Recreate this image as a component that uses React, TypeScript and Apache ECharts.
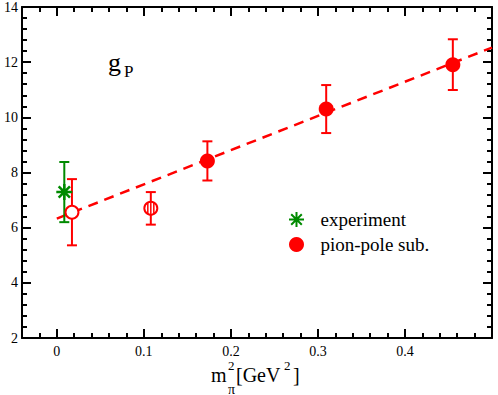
import React, { useEffect, useRef } from "react";
import * as echarts from "echarts";

// ---- data ----
const xMajorTicks = [0, 0.1, 0.2, 0.3, 0.4];
const yMajorTicks = [2, 4, 6, 8, 10, 12, 14];

const expX = [0.0086];
const expY = [7.29];
const expErr = [1.09];

const latX = [0.0174, 0.108, 0.173, 0.3095, 0.455];
const latY = [6.56, 6.7, 8.42, 10.3, 11.91];
const latErr = [1.2, 0.59, 0.71, 0.87, 0.92];
const latKind = ["open", "hatched", "filled", "filled", "filled"];

const fitX = [0, 0.5];
const fitY = [6.33, 12.53];

const RED = "#ff0000";
const GREEN = "#008a00";
const FONT = "'Liberation Serif', 'Times New Roman', serif";

const asterisk =
  "path://M10,0L10,20M0,10L20,10M2.93,2.93L17.07,17.07M2.93,17.07L17.07,2.93";

function errBarSeries(name: string, data: number[][], color: string) {
  return {
    name,
    type: "custom",
    silent: true,
    z: 3,
    encode: { x: 0, y: 1 },
    data,
    renderItem: (params: any, api: any) => {
      const x = api.value(0);
      const y = api.value(1);
      const e = api.value(2);
      const t = api.coord([x, y + e]);
      const b = api.coord([x, y - e]);
      const hw = 5;
      const st = { stroke: color, lineWidth: 2 };
      return {
        type: "group",
        children: [
          { type: "line", shape: { x1: t[0], y1: t[1], x2: b[0], y2: b[1] }, style: st },
          { type: "line", shape: { x1: t[0] - hw, y1: t[1], x2: t[0] + hw, y2: t[1] }, style: st },
          { type: "line", shape: { x1: b[0] - hw, y1: b[1], x2: b[0] + hw, y2: b[1] }, style: st },
        ],
      };
    },
  };
}

function txt(text: string, x: number, y: number, size: number) {
  return {
    type: "text",
    x,
    y,
    style: {
      text,
      fontFamily: FONT,
      fontSize: size,
      fill: "#000",
      verticalAlign: "middle",
    },
  };
}

export default function App() {
  const ref = useRef<HTMLDivElement>(null);
  useEffect(() => {
    if (!ref.current) return;
    const chart = echarts.init(ref.current, undefined, { renderer: "svg" });

    const expData = expX.map((x, i) => [x, expY[i], expErr[i]]);
    const latData = latX.map((x, i) => [x, latY[i], latErr[i]]);
    const filled = latX.map((x, i) => [x, latY[i]]).filter((_, i) => latKind[i] === "filled");
    const open = latX.map((x, i) => [x, latY[i]]).filter((_, i) => latKind[i] === "open");
    const hatched = latX.map((x, i) => [x, latY[i]]).filter((_, i) => latKind[i] === "hatched");
    const fit = fitX.map((x, i) => [x, fitY[i]]);

    const axisLine = { show: true, onZero: false, lineStyle: { color: "#000", width: 2 } };
    const minorX = (pos: string) => ({
      type: "value",
      min: -0.04,
      max: 0.5,
      interval: 0.02,
      position: pos,
      axisLine,
      axisTick: { show: true, inside: true, length: 5, lineStyle: { color: "#000", width: 2 } },
      axisLabel: { show: false },
      splitLine: { show: false },
    });
    const majorX = (pos: string, labels: boolean) => ({
      type: "value",
      min: -0.04,
      max: 0.5,
      position: pos,
      axisLine: { show: false },
      axisTick: {
        show: true,
        inside: true,
        length: 9,
        customValues: xMajorTicks,
        lineStyle: { color: "#000", width: 2 },
      },
      axisLabel: {
        show: labels,
        customValues: xMajorTicks,
        formatter: (v: number) => String(Math.round(v * 10) / 10),
        fontFamily: FONT,
        fontSize: 14,
        color: "#000",
        margin: 6,
      },
      splitLine: { show: false },
    });
    const yAx = (pos: string, labels: boolean) => ({
      type: "value",
      min: 2,
      max: 14,
      interval: 2,
      position: pos,
      axisLine,
      axisTick: { show: true, inside: true, length: 9, lineStyle: { color: "#000", width: 2 } },
      minorTick: { show: true, splitNumber: 5, length: 5, lineStyle: { color: "#000", width: 2 } },
      axisLabel: {
        show: labels,
        fontFamily: FONT,
        fontSize: 14,
        color: "#000",
        margin: 4,
        formatter: (v: number) => (yMajorTicks.includes(v) ? String(v) : ""),
      },
      splitLine: { show: false },
    });

    chart.setOption({
      animation: false,
      backgroundColor: "#fff",
      grid: { left: 22, right: 6, top: 6, bottom: 57, containLabel: false },
      xAxis: [minorX("bottom"), majorX("bottom", true), minorX("top"), majorX("top", false)],
      yAxis: [yAx("left", true), yAx("right", false)],
      legend: {
        orient: "vertical",
        left: 283,
        top: 205,
        itemWidth: 30,
        itemHeight: 15,
        itemGap: 6,
        selectedMode: false,
        textStyle: { fontFamily: FONT, fontSize: 19, color: "#000", padding: [0, 0, 0, 4] },
        data: ["experiment", "pion-pole sub."],
      },
      series: [
        {
          name: "fit",
          type: "line",
          data: fit,
          symbol: "none",
          z: 1,
          lineStyle: { color: RED, width: 2.5, type: [10, 7] },
        },
        errBarSeries("expErr", expData, GREEN),
        errBarSeries("latErr", latData, RED),
        {
          name: "experiment",
          type: "scatter",
          data: expX.map((x, i) => [x, expY[i]]),
          symbol: asterisk,
          symbolSize: 16,
          z: 5,
          itemStyle: { color: GREEN, borderColor: GREEN, borderWidth: 2.5, opacity: 1 },
        },
        {
          name: "pion-pole sub.",
          type: "scatter",
          data: filled,
          symbol: "circle",
          symbolSize: 15,
          z: 5,
          itemStyle: { color: RED, opacity: 1 },
        },
        {
          name: "open",
          type: "scatter",
          data: open,
          symbol: "circle",
          symbolSize: 13,
          z: 5,
          itemStyle: { color: "#fff", borderColor: RED, borderWidth: 2, opacity: 1 },
        },
        {
          name: "hatched",
          type: "custom",
          z: 5,
          encode: { x: 0, y: 1 },
          data: hatched,
          renderItem: (params: any, api: any) => {
            const c = api.coord([api.value(0), api.value(1)]);
            const r = 6.5;
            const st = { stroke: RED, lineWidth: 2 };
            const lines = [-3, 0, 3].map((dx) => {
              const h = Math.sqrt(r * r - dx * dx);
              return {
                type: "line",
                shape: { x1: c[0] + dx, y1: c[1] - h, x2: c[0] + dx, y2: c[1] + h },
                style: { stroke: RED, lineWidth: 1.5 },
              };
            });
            return {
              type: "group",
              children: [
                { type: "circle", shape: { cx: c[0], cy: c[1], r }, style: { fill: "#fff", ...st } },
                ...lines,
              ],
            };
          },
        },
      ],
      graphic: [
        txt("g", 108, 62, 26),
        txt("P", 124, 71, 17),
        txt("m", 211, 375, 20),
        txt("2", 228, 365, 13),
        txt("π", 228, 389, 14),
        txt("[GeV", 236, 375, 20),
        txt("2", 284, 365, 13),
        txt("]", 293, 375, 20),
      ],
    });
    return () => chart.dispose();
  }, []);
  return <div ref={ref} style={{ width: 498, height: 395, position: "absolute", left: 0, top: 0 }} />;
}
